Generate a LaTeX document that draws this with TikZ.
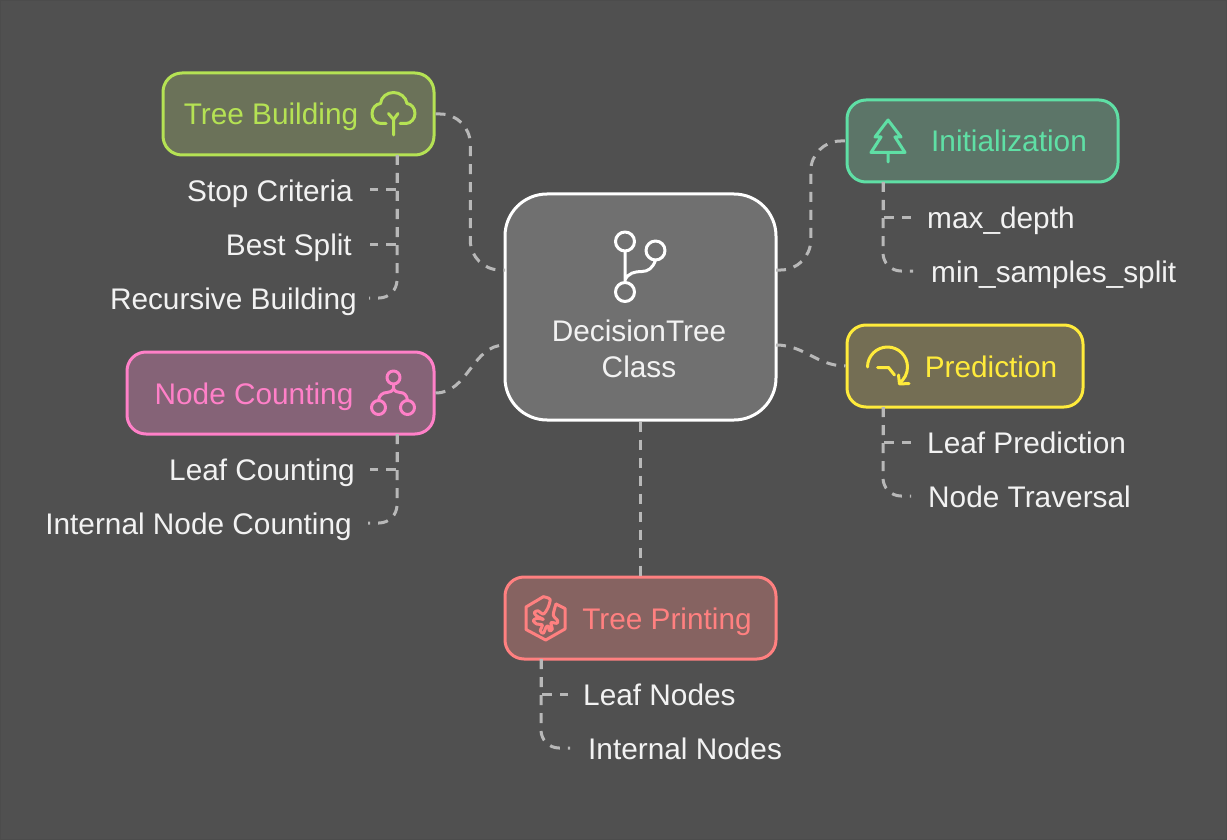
\documentclass[tikz,border=0pt]{standalone}
\usepackage{fontspec}
\setmainfont{Liberation Sans}
\usetikzlibrary{positioning,calc}
\definecolor{canvasbg}{HTML}{505050}
\definecolor{buildcol}{HTML}{B5E254}
\definecolor{buildfill}{HTML}{6B7259}
\definecolor{initcol}{HTML}{5FDFA5}
\definecolor{initfill}{HTML}{5C7568}
\definecolor{predcol}{HTML}{FFEB3B}
\definecolor{predfill}{HTML}{746E54}
\definecolor{countcol}{HTML}{FF80C8}
\definecolor{countfill}{HTML}{856377}
\definecolor{printcol}{HTML}{FF8080}
\definecolor{printfill}{HTML}{866361}
\definecolor{linkcol}{HTML}{B8B8B8}
\tikzset{
  box/.style={draw,line width=3pt,rounded corners=19pt,inner sep=0pt},
  boxtext/.style={font=\fontsize{29.8}{36}\selectfont,text height=26pt,text depth=4pt,inner sep=0pt},
  leaf/.style={boxtext,text=white!95!black},
  link/.style={linkcol,line width=3pt,dash pattern=on 10pt off 8pt,rounded corners=18pt},
  icon/.style={line width=3pt,line cap=round,line join=round},
}
\begin{document}
\begin{tikzpicture}[x=1pt,y=-1pt]
\useasboundingbox (0,0) rectangle (1227,840);
\fill[canvasbg] (0,0) rectangle (1227,840);
\draw[black!70,line width=1pt] (0.5,0.5) rectangle (1226.5,839.5);

% boxes
\node[box,draw=white,fill=black!56!white,rounded corners=42pt,minimum width=271pt,minimum height=226pt] (center) at (640.5,307) {};
\node[box,draw=buildcol,fill=buildfill,minimum width=271pt,minimum height=82pt] (build) at (298.5,114) {};
\node[box,draw=initcol,fill=initfill,minimum width=271pt,minimum height=82pt] (init) at (982.5,141) {};
\node[box,draw=predcol,fill=predfill,minimum width=236pt,minimum height=82pt] (pred) at (965,366) {};
\node[box,draw=countcol,fill=countfill,minimum width=307pt,minimum height=82pt] (count) at (280.5,393) {};
\node[box,draw=printcol,fill=printfill,minimum width=271pt,minimum height=82pt] (print) at (640.5,618) {};

% box texts
\node[boxtext,text=white!95!black,align=center,text height=,text depth=] (centertext) at (639,348.5) {DecisionTree\\Class};
\node[boxtext,text=buildcol] (buildtext) at (271,114) {Tree Building};
\node[boxtext,text=initcol] (inittext) at (1009,141) {Initialization};
\node[boxtext,text=predcol] (predtext) at (991,366) {Prediction};
\node[boxtext,text=countcol] (counttext) at (254,393) {Node Counting};
\node[boxtext,text=printcol] (printtext) at (667,618) {Tree Printing};

% leaves
\node[leaf,anchor=east] (stop) at (353,190) {Stop Criteria};
\node[leaf,anchor=east] (split) at (352,244) {Best Split};
\node[leaf,anchor=east] (recursive) at (357,298) {Recursive Building};
\node[leaf,anchor=east] (leafcount) at (355,469) {Leaf Counting};
\node[leaf,anchor=east] (innercount) at (352,523) {Internal Node Counting};
\node[leaf,anchor=west] (maxdepth) at (927,217) {max\_depth};
\node[leaf,anchor=west] (minsamples) at (931,271) {min\_samples\_split};
\node[leaf,anchor=west] (leafpred) at (927,442) {Leaf Prediction};
\node[leaf,anchor=west] (traversal) at (928,496) {Node Traversal};
\node[leaf,anchor=west] (leafnodes) at (583,694) {Leaf Nodes};
\node[leaf,anchor=west] (innernodes) at (588,748) {Internal Nodes};

% ports
\coordinate (centerwu) at (505,270);
\coordinate (centerwd) at (505,345);
\coordinate (centereu) at (776,270);
\coordinate (centered) at (776,345);
\coordinate (buildport) at (397,155);
\coordinate (countport) at (397,434);
\coordinate (initport) at (883,182);
\coordinate (predport) at (883,407);
\coordinate (printport) at (541,659);

% main links
\draw[link,rounded corners=30pt] (build.east) -| ($(build.east)!.5!(centerwu)$) |- (centerwu);
\draw[link,rounded corners=30pt] (centereu) -| ($(centereu)!.5!(init.west)$) |- (init.west);
\draw[link] (count.east) to[out=0,in=180] (centerwd);
\draw[link] (centered) to[out=0,in=180] (pred.west);
\draw[link] (center.south) -- (print.north);

% leaf links
\draw[link,rounded corners=0pt] (buildport) |- ([xshift=17pt]stop.east);
\draw[link,rounded corners=0pt] (buildport) |- ([xshift=18pt]split.east);
\draw[link] (buildport) |- ([xshift=12pt]recursive.east);
\draw[link,rounded corners=0pt] (countport) |- ([xshift=15pt]leafcount.east);
\draw[link] (countport) |- ([xshift=16pt]innercount.east);
\draw[link,rounded corners=0pt] (initport) |- ([xshift=-16pt]maxdepth.west);
\draw[link] (initport) |- ([xshift=-18pt]minsamples.west);
\draw[link,rounded corners=0pt] (predport) |- ([xshift=-16pt]leafpred.west);
\draw[link] (predport) |- ([xshift=-17pt]traversal.west);
\draw[link,rounded corners=0pt] (printport) |- ([xshift=-15pt]leafnodes.west);
\draw[link] (printport) |- ([xshift=-18pt]innernodes.west);

% icons
\draw[icon,white] (625,241.5) circle (9.5) (655.5,250.5) circle (9.5) (625,292) circle (9.5)
  (625,251) -- (625,282)
  (655.5,260) .. controls (653,268) and (648,271.5) .. (642,271.5) .. controls (635,271.5) and (628,273) .. (625,280);
\draw[icon,buildcol] (386,123.5) -- (381,123.5) .. controls (375,123.5) and (372,118.5) .. (372,113.5) .. controls (372,108) and (376,104) .. (380.5,103.5) .. controls (381,97) and (387,92.5) .. (393.5,92.5) .. controls (400,92.5) and (406,97) .. (407,103.5) .. controls (411.5,104) and (415,108) .. (415,113.5) .. controls (415,118.5) and (411,123.5) .. (406,123.5) -- (400,123.5)
  (388.5,113.5) -- (393.5,119.5) -- (398,113.5) (393.5,119.5) -- (393.5,135);
\draw[icon,initcol] (888,120) -- (901,137) -- (895,137) -- (905,152.5) -- (871,152.5) -- (881,137) -- (875,137) -- cycle
  (888,152.5) -- (888,162);
\draw[icon,predcol] (867.5,367) arc[start angle=180,end angle=-54,radius=20,y radius=-20]
  (877.5,367.5) -- (888.5,367.5) -- (894.5,375) (898.5,375) -- (899.5,384) -- (909,383.5);
\draw[icon,countcol] (393.5,377.5) circle (6.5) (378.5,407.5) circle (7) (407.5,407.5) circle (7)
  (393.5,384) -- (393.5,389)
  (378.5,400.5) .. controls (379,395) and (383,392.5) .. (387,392.5) .. controls (390,392.5) and (392.5,391) .. (393.5,389)
  .. controls (394.5,391) and (397,392.5) .. (400,392.5) .. controls (404,392.5) and (407,395) .. (407.5,400.5);
\draw[icon,printcol] (556,604) -- (565,608.5) -- (565,629) -- (545.7,640) -- (526,629.5) -- (526,607) -- (543.3,596.7);
\draw[icon,printcol] plot[smooth] coordinates {(543.3,596.7) (550,599.3) (547.7,608.3) (543.3,614) (537.7,610.7) (534.3,612.7) (536.7,616) (543.3,619.3) (536.7,618.3) (533.3,620.7) (536.7,624) (542.3,625) (540.3,630.7) (543.3,633.3) (546,627.3) (548.3,626) (549.3,630.7) (552.3,629.3) (551,622.7) (556.7,623.3) (557.7,620.7) (553.3,615) (556,604)};
\end{tikzpicture}
\end{document}
